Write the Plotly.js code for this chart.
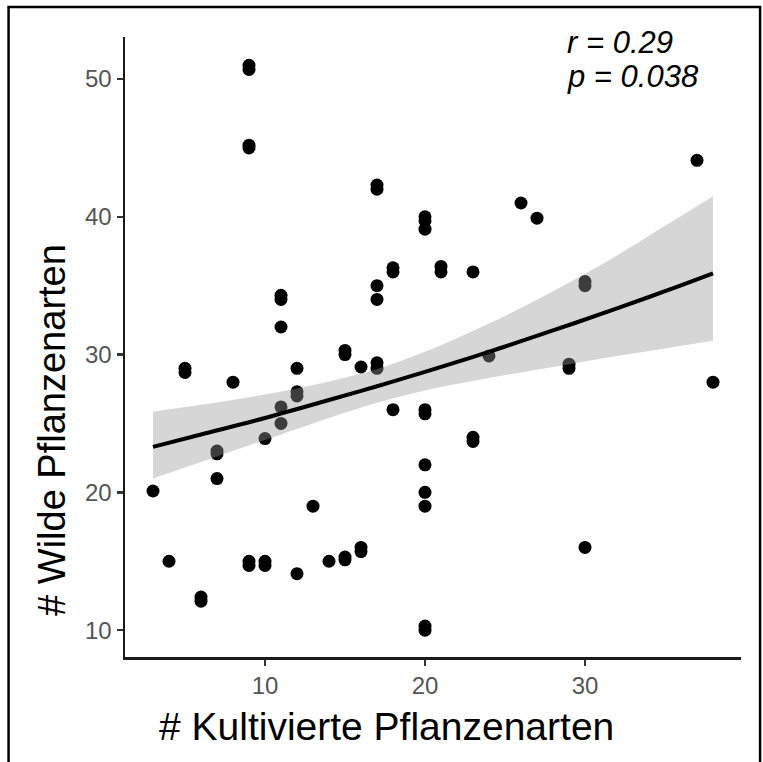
<!DOCTYPE html>
<html>
<head>
<meta charset="utf-8">
<script src="https://cdn.plot.ly/plotly-3.0.1.min.js"></script>
<style>
  html, body { margin: 0; padding: 0; background: #ffffff; }
  #chart { width: 763px; height: 762px; }
</style>
</head>
<body>
<div id="chart"></div>
<script>
// Observed points: cultivated species (x) vs wild species (y)
const kultiviert = [3, 4, 5, 5, 6, 6, 7, 7, 7, 8,
  9, 9, 9, 9, 9, 9, 10, 10, 10, 11, 11, 11, 11, 11,
  12, 12, 12, 12, 13, 14, 15, 15, 15, 15, 16, 16, 16,
  17, 17, 17, 17, 17, 17, 18, 18, 18,
  20, 20, 20, 20, 20, 20, 20, 20, 20, 20,
  21, 21, 23, 23, 23, 24, 26, 27, 29, 29, 30, 30, 30, 37, 38];
const wilde = [20.1, 15, 28.7, 29, 12.4, 12.1, 22.8, 23, 21, 28,
  50.7, 51, 45, 45.2, 14.7, 15, 23.9, 14.7, 15, 34.3, 34.0, 32, 26.2, 25,
  29, 27.3, 27.0, 14.1, 19, 15, 30.0, 30.3, 15.1, 15.3, 29.1, 15.7, 16,
  42, 42.3, 35, 34, 29.4, 29.0, 36, 36.3, 26,
  40, 39.7, 39.1, 26, 25.7, 22, 20, 19, 10.3, 10.0,
  36.4, 36.0, 36, 24, 23.7, 29.9, 41, 39.9, 29.3, 29.0, 35.0, 35.3, 16, 44.1, 28];

// Fitted curve and confidence band
const fitX = [3, 6, 10, 14, 17, 20, 24, 28, 32, 35, 38];
const fitY = [23.3, 24.2, 25.4, 26.7, 27.7, 28.75, 30.2, 31.75, 33.35, 34.6, 35.9];
const ciLow = [21.0, 22.2, 23.8, 25.4, 26.5, 27.4, 28.3, 29.1, 29.9, 30.45, 31.0];
const ciHigh = [25.85, 26.35, 27.1, 28.05, 28.95, 30.2, 32.25, 34.6, 37.2, 39.35, 41.5];

const xTicks = [10, 20, 30];
const yTicks = [10, 20, 30, 40, 50];
const statR = 'r = 0.29';
const statP = 'p = 0.038';
const xTitle = '# Kultivierte Pflanzenarten';
const yTitle = '# Wilde Pflanzenarten';

const traces = [
  {
    x: kultiviert, y: wilde, type: 'scatter', mode: 'markers',
    marker: { color: '#000000', size: 13 },
    hoverinfo: 'x+y', showlegend: false
  },
  {
    x: fitX, y: ciLow, type: 'scatter', mode: 'lines',
    line: { width: 0, shape: 'spline', color: 'rgba(0,0,0,0)' },
    hoverinfo: 'skip', showlegend: false
  },
  {
    x: fitX, y: ciHigh, type: 'scatter', mode: 'lines',
    line: { width: 0, shape: 'spline', color: 'rgba(0,0,0,0)' },
    fill: 'tonexty', fillcolor: 'rgba(153,153,153,0.4)',
    hoverinfo: 'skip', showlegend: false
  },
  {
    x: fitX, y: fitY, type: 'scatter', mode: 'lines',
    line: { width: 4, shape: 'spline', color: '#000000' },
    hoverinfo: 'skip', showlegend: false
  }
];

const axisCommon = {
  showgrid: false, zeroline: false,
  showline: true, linecolor: '#1a1a1a', linewidth: 2.5,
  ticks: 'outside', ticklen: 6, tickwidth: 2.5, tickcolor: '#333333',
  tickfont: { family: 'Liberation Sans, Arial, sans-serif', size: 24, color: '#555555' },
  fixedrange: true
};

const titleFont = { family: 'Liberation Sans, Arial, sans-serif', color: '#000000' };
const statFont = { family: 'Liberation Sans, Arial, sans-serif', size: 31, color: '#000000', style: 'italic' };

const layout = {
  width: 763, height: 762,
  margin: { l: 125, r: 22, t: 37, b: 105, pad: 0 },
  paper_bgcolor: '#ffffff', plot_bgcolor: '#ffffff',
  showlegend: false,
  xaxis: Object.assign({}, axisCommon, {
    range: [1.25, 39.75], tickvals: xTicks, ticktext: xTicks.map(String)
  }),
  yaxis: Object.assign({}, axisCommon, {
    range: [8.05, 53.05], tickvals: yTicks, ticktext: yTicks.map(String)
  }),
  annotations: [
    { text: xTitle, xref: 'paper', yref: 'paper', x: 0.4245, y: -0.1121,
      xanchor: 'center', yanchor: 'middle', showarrow: false,
      font: Object.assign({ size: 39 }, titleFont) },
    { text: yTitle, xref: 'paper', yref: 'paper', x: -0.1188, y: 0.366,
      xanchor: 'center', yanchor: 'middle', showarrow: false, textangle: -90,
      font: Object.assign({ size: 38 }, titleFont) },
    { text: statR, xref: 'paper', yref: 'paper', x: 0.714, y: 0.9915,
      xanchor: 'left', yanchor: 'middle', showarrow: false, font: statFont },
    { text: statP, xref: 'paper', yref: 'paper', x: 0.714, y: 0.9356,
      xanchor: 'left', yanchor: 'middle', showarrow: false, font: statFont }
  ],
  shapes: [
    { type: 'rect', xref: 'paper', yref: 'paper',
      x0: -0.189, x1: 1.031, y0: -0.2, y1: 1.0484,
      line: { color: '#000000', width: 2.5 }, fillcolor: 'rgba(0,0,0,0)', layer: 'above' }
  ]
};

Plotly.newPlot('chart', traces, layout, { displayModeBar: false, staticPlot: true });
</script>
</body>
</html>
